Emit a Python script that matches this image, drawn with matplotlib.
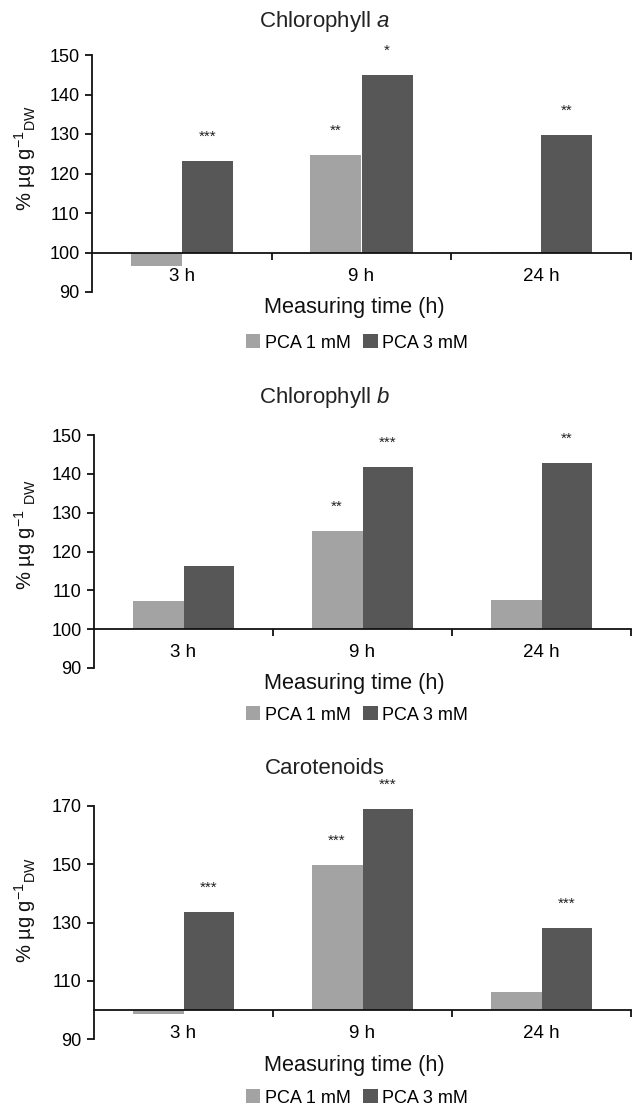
import numpy as np
import matplotlib
matplotlib.use("Agg")
import matplotlib.pyplot as plt
from matplotlib.ticker import FixedLocator

plt.rcParams['font.family'] = ['Liberation Sans', 'DejaVu Sans']
plt.rcParams['mathtext.fontset'] = 'custom'
plt.rcParams['mathtext.rm'] = 'Liberation Sans'
plt.rcParams['mathtext.it'] = 'Liberation Sans:italic'

categories = ['3 h', '9 h', '24 h']
series_names = ['PCA 1 mM', 'PCA 3 mM']

chl_a_1 = [96.5, 124.8, 100.2]
chl_a_3 = [123.1, 145.0, 129.8]
chl_b_1 = [107.2, 125.2, 107.4]
chl_b_3 = [116.3, 141.8, 142.9]
car_1 = [98.6, 149.8, 106.3]
car_3 = [133.6, 169.1, 128.0]

sig_a_1 = ['', '**', '']
sig_a_3 = ['***', '*', '**']
sig_b_1 = ['', '**', '']
sig_b_3 = ['', '***', '**']
sig_c_1 = ['', '***', '']
sig_c_3 = ['***', '***', '***']

yticks_ab = [90, 100, 110, 120, 130, 140, 150]
yticks_c = [90, 110, 130, 150, 170]

LIGHT = '#a3a3a3'
DARK = '#575757'

W, H = 634, 1109
fig = plt.figure(figsize=(W / 100, H / 100), dpi=100)


def px_axes(left, right, top, bottom):
    return fig.add_axes([left / W, 1 - bottom / H, (right - left) / W, (bottom - top) / H])


panels = [
    dict(box=(92, 631, 55, 292), title=r'Chlorophyll $\mathit{a}$', s1=chl_a_1, s3=chl_a_3,
         g1=sig_a_1, g3=sig_a_3, yt=yticks_ab, ylab=r'% µg g$^{\mathregular{-1}}$$_{\mathregular{DW}}$',
         title_y=22, xlab_y=307, leg_y=343, ylab_y=158),
    dict(box=(94, 631, 435, 668), title=r'Chlorophyll $\mathit{b}$', s1=chl_b_1, s3=chl_b_3,
         g1=sig_b_1, g3=sig_b_3, yt=yticks_ab, ylab=r'% µg g$^{\mathregular{-1}}$ $_{\mathregular{DW}}$',
         title_y=397, xlab_y=683, leg_y=715, ylab_y=534),
    dict(box=(94, 631, 806, 1039), title='Carotenoids', s1=car_1, s3=car_3,
         g1=sig_c_1, g3=sig_c_3, yt=yticks_c, ylab=r'% µg g$^{\mathregular{-1}}$$_{\mathregular{DW}}$',
         title_y=768, xlab_y=1065, leg_y=1098, ylab_y=910),
]

x = np.arange(len(categories))
bw = 0.284

for p in panels:
    l, r, t, b = p['box']
    ax = px_axes(l, r, t, b)
    base = 100
    v1 = np.array(p['s1'])
    v3 = np.array(p['s3'])
    b1 = ax.bar(x - bw / 2, v1 - base, bw, bottom=base, color=LIGHT, label=series_names[0], zorder=2)
    b3 = ax.bar(x + bw / 2, v3 - base, bw, bottom=base, color=DARK, label=series_names[1], zorder=2)
    for xi, v, s in zip(x - bw / 2, v1, p['g1']):
        if s:
            ax.annotate(s, (xi, v), xytext=(0, 14.5), textcoords='offset points',
                        ha='center', va='baseline', fontsize=11, color='#222222')
    for xi, v, s in zip(x + bw / 2, v3, p['g3']):
        if s:
            ax.annotate(s, (xi, v), xytext=(0, 14.5), textcoords='offset points',
                        ha='center', va='baseline', fontsize=11, color='#222222')

    yt = p['yt']
    ax.set_ylim(yt[0], yt[-1])
    ax.set_xlim(-0.5, 2.5)
    ax.set_yticks(yt)
    ax.set_yticklabels([str(v) for v in yt])
    ax.spines['top'].set_visible(False)
    ax.spines['right'].set_visible(False)
    ax.spines['bottom'].set_position(('data', 100))
    for s in ('left', 'bottom'):
        ax.spines[s].set_linewidth(1.3)
        ax.spines[s].set_color('#111111')
    ax.set_xticks(x)
    ax.set_xticklabels(categories)
    ax.xaxis.set_minor_locator(FixedLocator([0.5, 1.5, 2.5]))
    ax.tick_params(axis='x', which='major', length=0, pad=11, labelsize=13.5)
    ax.tick_params(axis='x', which='minor', length=5, width=1.3, direction='out', color='#111111')
    ax.tick_params(axis='y', length=5, width=1.3, direction='out', pad=4, labelsize=13, color='#111111')

    ax_h = b - t
    ax_w = r - l
    fig.text(325 / W, 1 - p['title_y'] / H, p['title'], ha='center', va='center', fontsize=16, color='#222222')
    ax.text((354 - l) / ax_w, (b - p['xlab_y']) / ax_h, 'Measuring time (h)', transform=ax.transAxes,
            ha='center', va='center', fontsize=15.7, color='#111111')
    ax.set_ylabel(p['ylab'], fontsize=14.5, color='#111111')
    ax.yaxis.set_label_coords((25 - l) / ax_w, (b - p['ylab_y']) / ax_h)
    ax.yaxis.label.set_va('center')
    ax.legend(handles=[b1, b3], loc='center', bbox_to_anchor=((357 - l) / ax_w, (b - p['leg_y']) / ax_h),
              ncol=2, frameon=False, fontsize=13, handlelength=0.8, handleheight=0.8,
              handletextpad=0.25, columnspacing=0.7, borderpad=0)

fig.savefig('out.png', dpi=100)
